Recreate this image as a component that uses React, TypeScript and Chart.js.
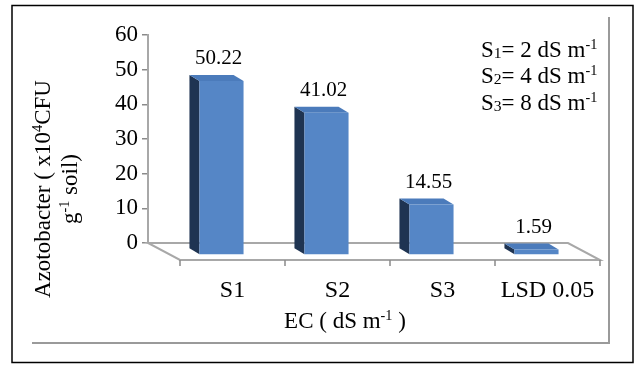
import { useEffect, useRef } from 'react';
import { Chart, registerables } from 'chart.js';

Chart.register(...registerables);

// ---- data ----
const categories = ['S1', 'S2', 'S3', 'LSD 0.05'];
const values = [50.22, 41.02, 14.55, 1.59];
const valueLabels = ['50.22', '41.02', '14.55', '1.59'];
const yMin = 0;
const yMax = 60;
const yStep = 10;

type Seg = { t: string; sup?: boolean; sub?: boolean };
const yTitleLines: Seg[][] = [
  [{ t: 'Azotobacter ( x10' }, { t: '4', sup: true }, { t: 'CFU' }],
  [{ t: 'g' }, { t: '-1', sup: true }, { t: ' soil)' }],
];
const xTitle: Seg[] = [{ t: 'EC ( dS m' }, { t: '-1', sup: true }, { t: ' )' }];
const legendLines: Seg[][] = [
  [{ t: 'S' }, { t: '1', sub: true }, { t: '= 2 dS m' }, { t: '-1', sup: true }],
  [{ t: 'S' }, { t: '2', sub: true }, { t: '= 4 dS m' }, { t: '-1', sup: true }],
  [{ t: 'S' }, { t: '3', sub: true }, { t: '= 8 dS m' }, { t: '-1', sup: true }],
];

// ---- styles ----
const FONT = '"Liberation Serif", "Times New Roman", serif';
const FRONT = '#5586c6';
const SIDE = '#1f3452';
const TOP = '#4b7bbb';
const GREY = '#a8a8a8';
const DXF = 21, DYF = 12; // front face offset
const DXB = 11, DYB = 6; // back face offset
const FDX = 32, FDY = 17; // floor depth

function font(size: number) {
  return `${size}px ${FONT}`;
}

function segSize(s: Seg, size: number) {
  return s.sub ? size * 0.68 : s.sup ? size * 0.62 : size;
}

function richWidth(ctx: CanvasRenderingContext2D, segs: Seg[], size: number) {
  let w = 0;
  for (const s of segs) {
    ctx.font = font(segSize(s, size));
    w += ctx.measureText(s.t).width;
  }
  return w;
}

function drawRich(ctx: CanvasRenderingContext2D, segs: Seg[], x: number, y: number, size: number) {
  let cx = x;
  ctx.textAlign = 'left';
  ctx.textBaseline = 'alphabetic';
  for (const s of segs) {
    ctx.font = font(segSize(s, size));
    const dy = s.sup ? -size * 0.36 : s.sub ? size * 0.04 : 0;
    ctx.fillText(s.t, cx, y + dy);
    cx += ctx.measureText(s.t).width;
  }
}

const decor = {
  id: 'decor',
  beforeDraw(chart: any) {
    const ctx = chart.ctx as CanvasRenderingContext2D;
    ctx.save();
    ctx.fillStyle = '#ffffff';
    ctx.fillRect(0, 0, chart.width, chart.height);
    // outer black frame
    ctx.strokeStyle = '#000000';
    ctx.lineWidth = 1.5;
    ctx.strokeRect(12, 5.5, 621, 357);
    // inner frame shadow lines
    ctx.strokeStyle = '#9a9a9a';
    ctx.lineWidth = 2;
    ctx.beginPath();
    ctx.moveTo(609, 17);
    ctx.lineTo(609, 343);
    ctx.lineTo(32, 343);
    ctx.stroke();
    ctx.restore();
  },
  beforeDatasetsDraw(chart: any) {
    const ctx = chart.ctx as CanvasRenderingContext2D;
    const { left, right, bottom } = chart.chartArea;
    ctx.save();
    // floor
    ctx.beginPath();
    ctx.moveTo(left, bottom);
    ctx.lineTo(right, bottom);
    ctx.lineTo(right + FDX, bottom + FDY);
    ctx.lineTo(left + FDX, bottom + FDY);
    ctx.closePath();
    ctx.fillStyle = '#ffffff';
    ctx.fill();
    ctx.strokeStyle = GREY;
    ctx.lineWidth = 2;
    ctx.stroke();
    // ticks on floor front edge
    const n = chart.data.labels.length;
    const w = (right - left) / n;
    ctx.lineWidth = 1.5;
    ctx.strokeStyle = '#8a8a8a';
    ctx.beginPath();
    for (let i = 0; i <= n; i++) {
      const x = left + FDX + i * w;
      ctx.moveTo(x, bottom + FDY);
      ctx.lineTo(x, bottom + FDY + 6);
    }
    ctx.stroke();
    // side + top faces
    const meta = chart.getDatasetMeta(0);
    meta.data.forEach((el: any) => {
      const p = el.getProps(['x', 'y', 'base', 'width'], true);
      const l = p.x - p.width / 2;
      const r = p.x + p.width / 2;
      ctx.fillStyle = SIDE;
      ctx.beginPath();
      ctx.moveTo(l + DXB, p.y + DYB);
      ctx.lineTo(l + DXF, p.y + DYF);
      ctx.lineTo(l + DXF, p.base + DYF);
      ctx.lineTo(l + DXB, p.base + DYB);
      ctx.closePath();
      ctx.fill();
      ctx.fillStyle = TOP;
      ctx.beginPath();
      ctx.moveTo(l + DXB, p.y + DYB);
      ctx.lineTo(r + DXB, p.y + DYB);
      ctx.lineTo(r + DXF, p.y + DYF);
      ctx.lineTo(l + DXF, p.y + DYF);
      ctx.closePath();
      ctx.fill();
    });
    ctx.restore();
    ctx.save();
    ctx.translate(DXF, DYF);
  },
  afterDatasetsDraw(chart: any) {
    const ctx = chart.ctx as CanvasRenderingContext2D;
    ctx.restore();
    ctx.save();
    // value labels
    const meta = chart.getDatasetMeta(0);
    ctx.fillStyle = '#000000';
    ctx.font = font(21);
    ctx.textAlign = 'center';
    ctx.textBaseline = 'middle';
    meta.data.forEach((el: any, i: number) => {
      const p = el.getProps(['x', 'y'], true);
      ctx.fillText(valueLabels[i], p.x + 18, p.y - 10);
    });
    // y title (rotated, two lines)
    const ts = 23;
    const centersX = [43, 70];
    yTitleLines.forEach((line, i) => {
      ctx.save();
      ctx.translate(centersX[i], 189);
      ctx.rotate(-Math.PI / 2);
      ctx.fillStyle = '#000000';
      const w = richWidth(ctx, line, ts);
      drawRich(ctx, line, -w / 2, ts * 0.32, ts);
      ctx.restore();
    });
    // x title
    ctx.fillStyle = '#000000';
    const xw = richWidth(ctx, xTitle, ts);
    drawRich(ctx, xTitle, 345 - xw / 2, 328, ts);
    // legend text
    const ls = 23;
    const baselines = [57, 83, 110];
    legendLines.forEach((line, i) => {
      drawRich(ctx, line, 481, baselines[i], ls);
    });
    ctx.restore();
  },
};

export default function App() {
  const ref = useRef<HTMLCanvasElement | null>(null);
  useEffect(() => {
    if (!ref.current) return;
    const chart = new Chart(ref.current, {
      type: 'bar',
      data: {
        labels: categories,
        datasets: [
          {
            data: values,
            backgroundColor: FRONT,
            borderWidth: 0,
            barPercentage: 0.42,
            categoryPercentage: 1,
            clip: false as any,
          },
        ],
      },
      options: {
        responsive: false,
        animation: false,
        events: [],
        layout: { padding: { left: 88, right: 72, top: 35, bottom: 62 } },
        plugins: { legend: { display: false }, tooltip: { enabled: false } },
        scales: {
          x: {
            grid: { display: false, drawTicks: false },
            border: { display: false },
            ticks: {
              color: '#000000',
              font: { family: FONT, size: 24 },
              padding: 33,
              labelOffset: FDX,
              maxRotation: 0,
              autoSkip: false,
            },
            afterFit: (s: any) => {
              s.height = 60;
            },
          },
          y: {
            min: yMin,
            max: yMax,
            grid: { drawOnChartArea: false, drawTicks: true, tickLength: 6, color: '#8a8a8a', lineWidth: 1.5 },
            border: { display: true, color: GREY, width: 2 },
            ticks: {
              stepSize: yStep,
              color: '#000000',
              font: { family: FONT, size: 23 },
              padding: 4,
            },
            afterFit: (s: any) => {
              s.width = 60;
            },
          },
        },
      },
      plugins: [decor],
    });
    return () => chart.destroy();
  }, []);
  return (
    <div style={{ position: 'absolute', left: 0, top: 0, width: 640, height: 365 }}>
      <canvas ref={ref} width={640} height={365} style={{ width: 640, height: 365, display: 'block' }} />
    </div>
  );
}
